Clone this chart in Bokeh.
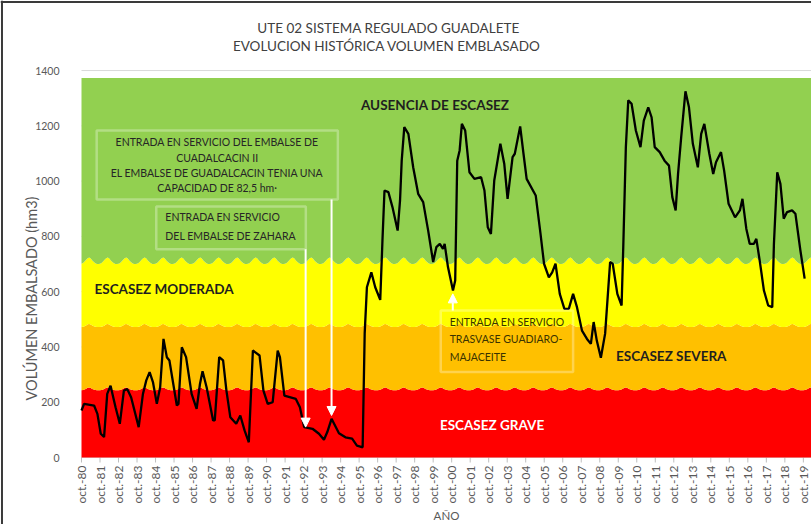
import numpy as np
from math import pi
from bokeh.plotting import figure
from bokeh.models import Range1d, Label, BoxAnnotation, Arrow, NormalHead, Span
from bokeh.embed import file_html
from bokeh.resources import INLINE

# ---------------- data ----------------
# monthly volume (decimal year, hm3)
years = [1980.75, 1980.89, 1981.43, 1981.61, 1981.79, 1981.97, 1982.14, 1982.32, 1982.59, 1982.82,
         1983.04, 1983.22, 1983.43, 1983.84, 1984.07, 1984.25, 1984.43, 1984.61, 1984.82, 1985.00,
         1985.18, 1985.36, 1985.50, 1985.90, 1985.99, 1986.17, 1986.40, 1986.70, 1986.97, 1987.15,
         1987.29, 1987.51, 1987.86, 1987.95, 1988.19, 1988.40, 1988.58, 1988.79, 1989.11, 1989.33,
         1989.56, 1989.79, 1990.01, 1990.37, 1990.58, 1990.81, 1991.08, 1991.35, 1991.47, 1991.71,
         1992.33, 1992.55, 1992.78, 1993.23, 1993.58, 1993.85, 1994.03, 1994.26, 1994.66, 1995.01,
         1995.37, 1995.63, 1995.94, 1996.05, 1996.17, 1996.41, 1996.62, 1996.89, 1997.01, 1997.12,
         1997.33, 1997.55, 1997.83, 1997.96, 1998.05, 1998.19, 1998.41, 1998.67, 1998.94, 1999.21,
         1999.48, 1999.75, 1999.92, 2000.11, 2000.28, 2000.37, 2000.55, 2000.82, 2000.94, 2001.05,
         2001.18, 2001.30, 2001.48, 2001.71, 2001.98, 2002.34, 2002.52, 2002.70, 2002.87, 2003.05,
         2003.38, 2003.59, 2003.77, 2004.04, 2004.16, 2004.45, 2004.63, 2004.80, 2005.29, 2005.55,
         2005.74, 2006.00, 2006.18, 2006.36, 2006.59, 2006.84, 2007.08, 2007.31, 2007.52, 2007.79,
         2008.06, 2008.27, 2008.42, 2008.59, 2008.81, 2009.04, 2009.31, 2009.45, 2009.70, 2009.93,
         2010.02, 2010.16, 2010.29, 2010.47, 2010.70, 2010.95, 2011.13, 2011.37, 2011.55, 2011.72,
         2011.99, 2012.25, 2012.49, 2012.67, 2012.85, 2012.98, 2013.15, 2013.38, 2013.57, 2013.78,
         2014.05, 2014.23, 2014.40, 2014.67, 2014.88, 2015.03, 2015.30, 2015.47, 2015.71, 2016.06,
         2016.32, 2016.46, 2016.67, 2016.85, 2017.08, 2017.21, 2017.39, 2017.62, 2017.85, 2018.07,
         2018.16, 2018.34, 2018.51, 2018.69, 2018.87, 2019.14, 2019.32, 2019.59, 2019.82]
volume = [170, 194, 188, 158, 86, 74, 230, 260, 182, 122,
          242, 248, 218, 110, 230, 279, 309, 273, 194, 254,
          429, 363, 351, 188, 194, 399, 363, 230, 176, 266,
          312, 254, 134, 134, 363, 351, 242, 146, 122, 152,
          98, 55, 387, 369, 242, 194, 200, 387, 363, 224,
          212, 182, 110, 104, 86, 64, 92, 140, 88, 73,
          68, 43, 37, 449, 616, 670, 616, 570, 785, 966,
          960, 906, 821, 930, 1074, 1195, 1171, 1050, 954, 924,
          821, 707, 761, 773, 755, 773, 689, 604, 640, 1074,
          1111, 1207, 1183, 1032, 1008, 1014, 966, 833, 809, 1002,
          1135, 1063, 936, 1087, 1099, 1198, 1099, 1008, 948, 809,
          701, 652, 670, 701, 592, 538, 538, 592, 544, 459,
          429, 411, 490, 423, 361, 448, 707, 701, 592, 550,
          761, 1123, 1292, 1280, 1183, 1123, 1219, 1267, 1231, 1123,
          1105, 1074, 1056, 942, 894, 1026, 1159, 1325, 1267, 1135,
          1050, 1171, 1207, 1099, 1026, 1068, 1105, 1038, 918, 869,
          894, 936, 827, 773, 773, 791, 713, 604, 550, 544,
          773, 1032, 990, 864, 888, 894, 882, 749, 647]

# seasonal (oct..sep) scarcity thresholds, hm3
grave_top = [243, 244, 246, 249, 252, 253, 251, 248, 246, 244, 243, 243]
severa_top = [472, 473, 475, 478, 482, 483, 481, 478, 475, 473, 472, 472]
moderada_top = [701, 704, 709, 715, 721, 724, 720, 713, 707, 703, 700, 700]
ausencia_top = 1373
first_year = 1980
n_years = 40

tick_years = list(range(1980, 2020))
tick_labels = ["oct.-%02d" % (y % 100) for y in tick_years]
y_ticks = [0, 200, 400, 600, 800, 1000, 1200, 1400]

# ---------------- figure ----------------
FONT = "Lato"
GRAY = "#595959"
X0 = first_year + 0.75      # oct-80, left edge of the plotted data
XS = 1976.374               # left edge of the canvas
X1 = 2020.19                # right edge of the canvas

# The frame covers the whole canvas (white space around the bands), so that the
# titles, tick labels and axis titles are placed exactly where the original has them.
p = figure(width=811, height=524, output_backend="svg", toolbar_location=None,
           x_range=Range1d(XS, X1), y_range=Range1d(-242.4, 1653.4),
           min_border_left=0, min_border_right=0, min_border_top=0, min_border_bottom=0)
p.outline_line_color = None
p.background_fill_color = "white"
p.border_fill_color = "white"
p.axis.visible = False
p.grid.grid_line_color = None

# horizontal gridlines (only the 1400 one stays visible above the bands)
p.segment(x0=[X0] * len(y_ticks), y0=y_ticks, x1=[X1] * len(y_ticks), y1=y_ticks,
          line_color="#d9d9d9", line_width=1)

# y tick labels
p.text(x=[X0] * len(y_ticks), y=y_ticks, text=[str(v) for v in y_ticks], x_offset=-22,
       text_align="right", text_baseline="middle", text_font={"value": FONT},
       text_font_size="10.5px", text_color=GRAY)

# x ticks and tick labels
tick_x = [y + 0.75 for y in tick_years]
p.ray(x=tick_x, y=[0] * len(tick_x), length=5, length_units="screen", angle=-pi / 2,
      line_color="#bfbfbf", line_width=1)
p.text(x=tick_x, y=[0] * len(tick_x), text=tick_labels, y_offset=8, angle=pi / 2,
       text_align="right", text_baseline="middle", text_font={"value": FONT},
       text_font_size="12px", text_color=GRAY)

# titles
for txt, yy in [("UTE 02 SISTEMA REGULADO GUADALETE", 497),
                ("EVOLUCION HISTÓRICA  VOLUMEN EMBLASADO", 479)]:
    p.add_layout(Label(x=388, y=yy, x_units="screen", y_units="screen", text=txt,
                       text_align="center", text_baseline="middle", text_font=FONT,
                       text_font_size="13.5px", text_color="#404040"))
# axis titles
p.add_layout(Label(x=31, y=226, x_units="screen", y_units="screen", angle=pi / 2,
                   text="VOLÚMEN EMBALSADO (hm3)", text_align="center", text_baseline="middle",
                   text_font=FONT, text_font_size="14.5px", text_color=GRAY))
p.add_layout(Label(x=446, y=9, x_units="screen", y_units="screen", text="AÑO",
                   text_align="center", text_baseline="middle", text_font=FONT,
                   text_font_size="11.5px", text_color=GRAY))

# outer border of the chart image (top and left edges)
p.add_layout(Span(location=XS + 0.08, dimension="height", line_color="#3a3a3a", line_width=2))
p.add_layout(Span(location=1648.0, dimension="width", line_color="#3a3a3a", line_width=2))

# bands
n_months = 12 * n_years
mx = X0 + np.arange(n_months + 1) / 12.0
g_top = np.tile(grave_top, n_years + 1)[:n_months + 1]
s_top = np.tile(severa_top, n_years + 1)[:n_months + 1]
m_top = np.tile(moderada_top, n_years + 1)[:n_months + 1]
p.varea(x=mx, y1=0, y2=g_top, fill_color="#FF0000")
p.varea(x=mx, y1=g_top, y2=s_top, fill_color="#FFC000")
p.varea(x=mx, y1=s_top, y2=m_top, fill_color="#FFFF00")
p.varea(x=mx, y1=m_top, y2=ausencia_top, fill_color="#92D050")

p.line(years, volume, line_color="black", line_width=2.3)

# band labels
for txt, xx, yy, col in [("AUSENCIA DE ESCASEZ", 1999.86, 1277, "#1f1f1f"),
                         ("ESCASEZ  MODERADA", 1985.30, 611, "#1f1f1f"),
                         ("ESCASEZ  SEVERA", 2012.70, 369, "#1f1f1f"),
                         ("ESCASEZ  GRAVE", 2003.02, 116, "white")]:
    p.add_layout(Label(x=xx, y=yy, text=txt, text_align="center", text_baseline="middle",
                       text_font=FONT, text_font_style="bold", text_font_size="13.5px",
                       text_color=col))

# annotation boxes
for l, r, b, t in [(1981.57, 1994.60, 933, 1183), (1984.79, 1992.87, 753, 908),
                   (2000.16, 2007.31, 309, 532)]:
    p.add_layout(BoxAnnotation(left=l, right=r, bottom=b, top=t, fill_alpha=0,
                               line_color="white", line_width=2.5))

box1_lines = ["ENTRADA EN SERVICIO DEL EMBALSE DE", "CUADALCACIN II",
              "EL EMBALSE DE GUADALCACIN TENIA UNA", "CAPACIDAD DE 82,5 hm\u00b7"]
for txt, yy in zip(box1_lines, [1141, 1084, 1030, 976]):
    p.add_layout(Label(x=1988.08, y=yy, text=txt, text_align="center", text_baseline="middle",
                       text_font=FONT, text_font_size="10.5px", text_color="#262626"))
p.add_layout(Label(x=1985.28, y=891,
                   text="ENTRADA EN SERVICIO\nDEL EMBALSE DE ZAHARA",
                   text_align="left", text_baseline="top", text_font=FONT, text_font_size="10.5px",
                   text_line_height=1.55, text_color="#262626"))
p.add_layout(Label(x=2000.64, y=512,
                   text="ENTRADA EN SERVICIO\nTRASVASE GUADIARO-\nMAJACEITE",
                   text_align="left", text_baseline="top", text_font=FONT, text_font_size="10.5px",
                   text_line_height=1.45, text_color="#3a3300"))

# arrows
for xs, ys, ye in [(1992.86, 753, 110), (1994.26, 933, 152), (2000.81, 532, 592)]:
    p.add_layout(Arrow(x_start=xs, y_start=ys, x_end=xs, y_end=ye, line_color="white", line_width=2,
                       end=NormalHead(size=9, fill_color="white", line_color="white")))

open("out.html", "w").write(file_html(p, INLINE))
